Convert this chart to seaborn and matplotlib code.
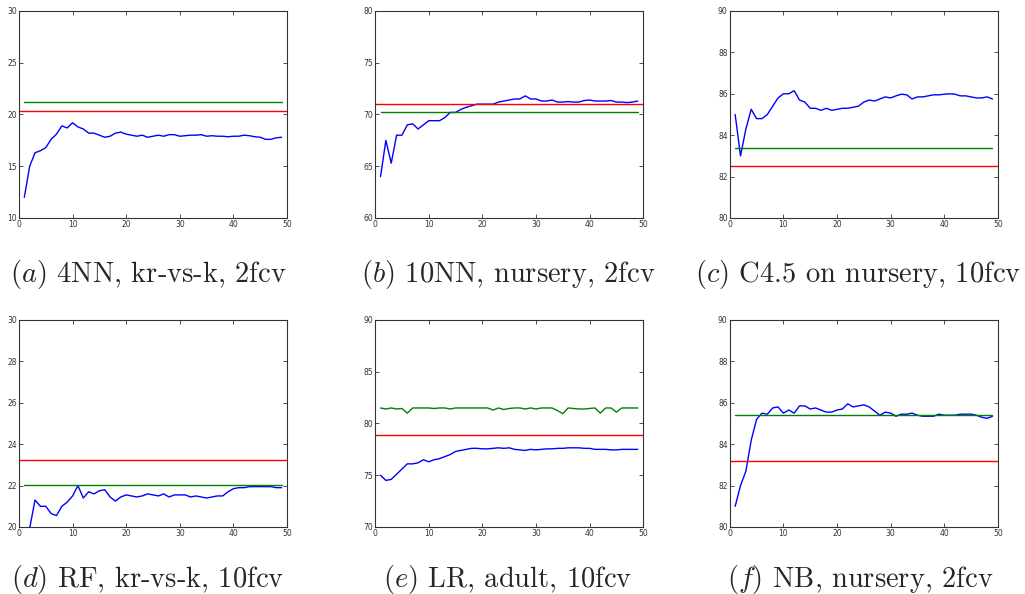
import numpy as np
import pandas as pd
import matplotlib
matplotlib.use("Agg")
import matplotlib.pyplot as plt
import seaborn as sns

# ── data ──
ks = list(range(1, 50))

blue_a = [12.0, 15.0, 16.3, 16.5, 16.8, 17.6, 18.1, 18.9, 18.7, 19.2,
          18.8, 18.6, 18.2, 18.2, 18.0, 17.8, 17.9, 18.2, 18.3, 18.1,
          18.0, 17.9, 18.0, 17.8, 17.9, 18.0, 17.9, 18.05, 18.05, 17.9,
          17.95, 18.0, 18.0, 18.05, 17.9, 17.95, 17.9, 17.9, 17.85, 17.9,
          17.9, 18.0, 17.95, 17.85, 17.8, 17.6, 17.6, 17.75, 17.8]
green_a = [21.2] * 49
red_a = 20.35

blue_b = [64.0, 67.5, 65.3, 68.0, 68.0, 69.0, 69.1, 68.6, 69.0, 69.4,
          69.4, 69.4, 69.7, 70.2, 70.2, 70.5, 70.7, 70.85, 71.0, 71.0,
          71.0, 71.0, 71.2, 71.3, 71.4, 71.5, 71.5, 71.8, 71.5, 71.5,
          71.3, 71.3, 71.4, 71.2, 71.2, 71.25, 71.2, 71.2, 71.35, 71.4,
          71.3, 71.3, 71.3, 71.35, 71.2, 71.2, 71.15, 71.2, 71.3]
green_b = [70.26] * 49
red_b = 71.0

blue_c = [85.0, 83.0, 84.3, 85.25, 84.8, 84.8, 85.0, 85.4, 85.8, 86.0,
          86.0, 86.15, 85.7, 85.6, 85.3, 85.3, 85.2, 85.3, 85.2, 85.25,
          85.3, 85.3, 85.35, 85.4, 85.6, 85.7, 85.65, 85.75, 85.85, 85.8,
          85.9, 85.98, 85.95, 85.75, 85.85, 85.85, 85.9, 85.95, 85.95, 85.98,
          86.0, 85.98, 85.9, 85.9, 85.85, 85.8, 85.8, 85.85, 85.75]
green_c = [83.39] * 49
red_c = 82.49

blue_d = [18.0, 19.95, 21.3, 21.0, 21.0, 20.65, 20.55, 21.0, 21.2, 21.5,
          22.0, 21.4, 21.7, 21.6, 21.75, 21.8, 21.45, 21.25, 21.45, 21.55,
          21.5, 21.45, 21.5, 21.6, 21.55, 21.5, 21.6, 21.45, 21.55, 21.55,
          21.55, 21.45, 21.5, 21.45, 21.4, 21.45, 21.5, 21.5, 21.7, 21.85,
          21.9, 21.9, 21.95, 21.95, 21.95, 21.95, 21.95, 21.9, 21.9]
green_d = [22.05] * 49
red_d = 23.22

blue_e = [75.0, 74.5, 74.6, 75.1, 75.6, 76.1, 76.1, 76.2, 76.5, 76.3,
          76.5, 76.6, 76.8, 77.0, 77.3, 77.4, 77.5, 77.6, 77.6, 77.55,
          77.55, 77.6, 77.65, 77.6, 77.65, 77.5, 77.45, 77.4, 77.5, 77.45,
          77.5, 77.55, 77.55, 77.6, 77.6, 77.65, 77.65, 77.65, 77.6, 77.6,
          77.5, 77.5, 77.5, 77.45, 77.45, 77.5, 77.5, 77.5, 77.5]
green_e = [81.5, 81.4, 81.5, 81.4, 81.45, 81.0, 81.5, 81.5, 81.5, 81.5,
           81.45, 81.5, 81.5, 81.4, 81.5, 81.5, 81.5, 81.5, 81.5, 81.5,
           81.5, 81.3, 81.5, 81.35, 81.45, 81.5, 81.5, 81.4, 81.5, 81.4,
           81.5, 81.5, 81.5, 81.25, 80.95, 81.5, 81.45, 81.4, 81.4, 81.45,
           81.5, 81.0, 81.5, 81.5, 81.1, 81.5, 81.5, 81.5, 81.5]
red_e = 78.89

blue_f = [81.0, 82.0, 82.7, 84.2, 85.2, 85.5, 85.45, 85.75, 85.8, 85.5,
          85.65, 85.5, 85.85, 85.85, 85.7, 85.75, 85.65, 85.55, 85.55, 85.65,
          85.7, 85.95, 85.8, 85.85, 85.9, 85.8, 85.6, 85.4, 85.55, 85.5,
          85.35, 85.45, 85.45, 85.5, 85.4, 85.35, 85.35, 85.35, 85.45, 85.4,
          85.4, 85.4, 85.45, 85.45, 85.45, 85.4, 85.3, 85.25, 85.35]
green_f = [85.39] * 49
red_f = 83.2

captions = ["$(a)$ 4NN, kr-vs-k, 2fcv", "$(b)$ 10NN, nursery, 2fcv",
            "$(c)$ C4.5 on nursery, 10fcv", "$(d)$ RF, kr-vs-k, 10fcv",
            "$(e)$ LR, adult, 10fcv", "$(f)$ NB, nursery, 2fcv"]
ylims = [(10, 30), (60, 80), (80, 90), (20, 30), (70, 90), (80, 90)]
yticks = [[10, 15, 20, 25, 30], [60, 65, 70, 75, 80], [80, 82, 84, 86, 88, 90],
          [20, 22, 24, 26, 28, 30], [70, 75, 80, 85, 90], [80, 82, 84, 86, 88, 90]]

panels = [(blue_a, green_a, red_a), (blue_b, green_b, red_b),
          (blue_c, green_c, red_c), (blue_d, green_d, red_d),
          (blue_e, green_e, red_e), (blue_f, green_f, red_f)]

# ── style ──
sns.set_style("ticks", {
    "xtick.direction": "in", "ytick.direction": "in",
    "xtick.top": True, "ytick.right": True,
})
plt.rcParams["mathtext.fontset"] = "cm"
plt.rcParams["font.family"] = ["DejaVu Sans"]

fig = plt.figure(figsize=(10.25, 5.94), dpi=100)

lefts = [0.0185, 0.366, 0.712]
bottoms = [0.633, 0.1128]
w, h = 0.2615, 0.3485
baselines = [1 - 282 / 594, 1 - 587 / 594]
# caption centres (px) — (c) sits a bit left since it is wide
centres = [148, 508, 858, 148, 508, 860]

for i, (blue, green, red) in enumerate(panels):
    row, col = divmod(i, 3)
    ax = fig.add_axes([lefts[col], bottoms[row], w, h])
    df = pd.DataFrame({"k": ks, "blue": blue, "green": green})
    sns.lineplot(data=df, x="k", y="blue", color="#0000ff", lw=1.0, ax=ax)
    sns.lineplot(data=df, x="k", y="green", color="#008000", lw=1.0, ax=ax)
    ax.axhline(red, color="#ff0000", lw=1.0)
    ax.set_xlim(0, 50)
    ax.set_ylim(*ylims[i])
    ax.set_xticks([0, 10, 20, 30, 40, 50])
    ax.set_yticks(yticks[i])
    ax.set_xlabel("")
    ax.set_ylabel("")
    ax.tick_params(labelsize=5.5, length=3, width=0.6, pad=1.5,
                   colors="#333333", labelcolor="#333333",
                   top=True, right=True, direction="in")
    for sp in ax.spines.values():
        sp.set_linewidth(0.8)
        sp.set_color("#333333")
    fig.text(centres[i] / 1025, baselines[row], captions[i], ha="center",
             va="baseline", fontsize=20.5, family="cmr10")

fig.savefig("out.png", dpi=100)
